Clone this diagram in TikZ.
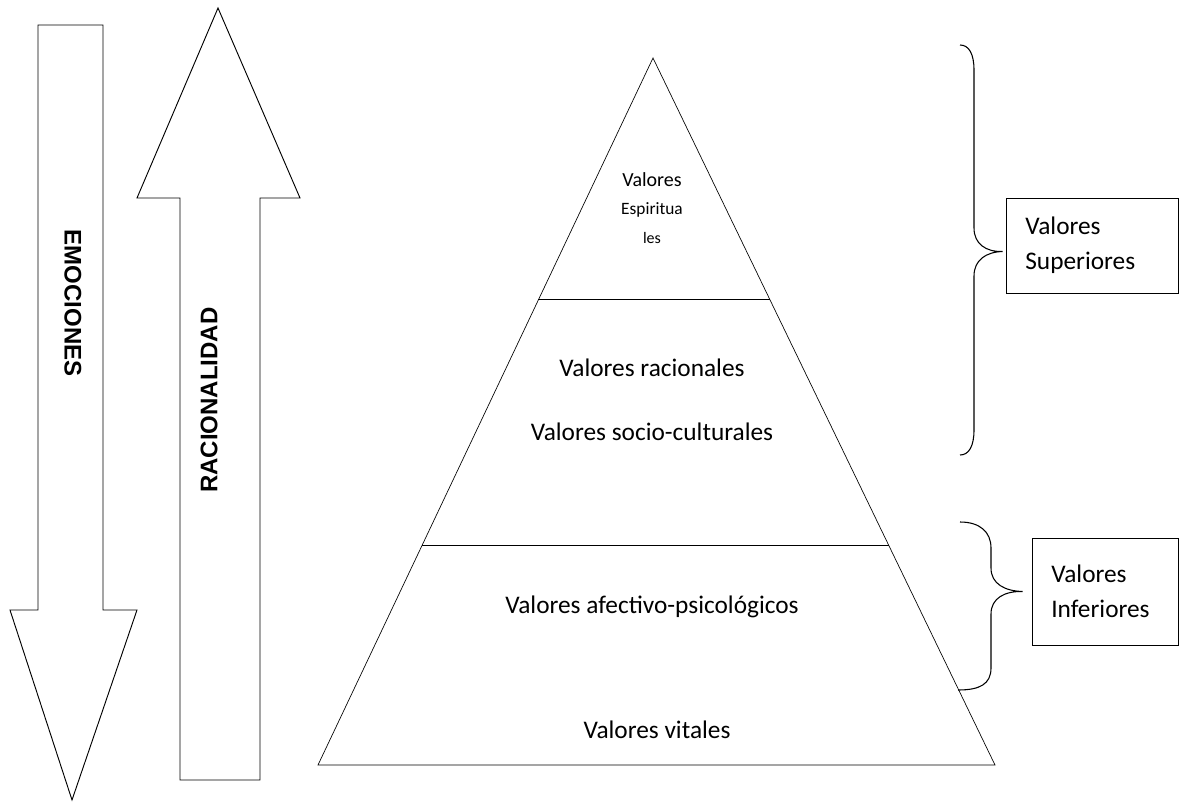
\documentclass[tikz,border=0pt]{standalone}
\usepackage{fontspec}
\setmainfont{Carlito}
\newfontfamily\arrowfont{Liberation Sans}
\usetikzlibrary{calc}

\begin{document}
\begin{tikzpicture}[%
    x=0.75pt, y=-0.75pt,
    outline/.style = {draw, line width=0.7pt, fill=white},
    level/.style = {draw, line width=0.8pt},
    brace line/.style = {draw, line width=0.8pt},
    pyrtext/.style = {font=\fontsize{19}{23}\selectfont},
    arrowtext/.style = {font=\arrowfont\bfseries\fontsize{18}{22}\selectfont},
    valbox/.style = {draw, line width=0.7pt, align=left, inner xsep=14.5pt,
        font=\fontsize{19}{26}\selectfont}
]
\useasboundingbox (0,0) rectangle (1182,807);

% block arrows
\draw[outline] (38,25) -- (103,25) -- (103,610) -- (137,610) -- (72,800)
    -- (10,610) -- (38,610) -- cycle;
\node[arrowtext, rotate=-90] (emoLbl) at (73,303) {EMOCIONES};
\draw[outline] (180,780) -- (260,780) -- (260,198) -- (300,198) -- (218,8)
    -- (137,198) -- (180,198) -- cycle;
\node[arrowtext, rotate=90] (racLbl) at (209,400) {RACIONALIDAD};

% pyramid
\coordinate (apex) at (653,58);
\coordinate (bl) at (318,765);
\coordinate (br) at (995,765);
\draw[line width=0.5pt] (apex) -- (bl) -- (br) -- cycle;
\coordinate (l1) at ($(apex)!0.342!(bl)$);
\coordinate (r1) at ($(apex)!0.342!(br)$);
\coordinate (l2) at ($(apex)!0.690!(bl)$);
\coordinate (r2) at ($(apex)!0.690!(br)$);
\draw[level] (l1) -- (r1);
\draw[level] (l2) -- (r2);

\foreach \t/\y/\s [count=\i] in {Valores/180/15, Espiritua/210/13, les/238/12} {
    \node[font=\fontsize{\s}{\s}\selectfont] (esp\i) at (652,\y) {\t};
}
\node[pyrtext] (vrac) at (652,368) {Valores racionales};
\node[pyrtext] (vsoc) at (652,432) {Valores socio-culturales};
\node[pyrtext] (vafe) at (652,607) {Valores afectivo-psicológicos};
\node[pyrtext] (vvit) at (657,730) {Valores vitales};

% boxes and braces
\node[valbox, minimum width=129pt, minimum height=71.25pt, text width=100pt]
    (sup) at (1092,245.5) {Valores\\Superiores};
\node[valbox, minimum width=109.5pt, minimum height=80.25pt, text width=80.5pt]
    (inf) at (1105,591.5) {Valores\\Inferiores};

\coordinate (supTop) at (960,45);
\coordinate (supBot) at (960,455);
\coordinate (supTip) at ($(sup.west)+(-3,6)$);
\draw[brace line] (supTop) .. controls (969,45) and (974,54) .. (974,70)
    -- (974,228)
    .. controls (974,244) and (986,252) .. (supTip)
    .. controls (986,252) and (974,260) .. (974,276)
    -- (974,430)
    .. controls (974,446) and (969,455) .. (supBot);

\coordinate (infTop) at (960,522);
\coordinate (infBot) at (958,690);
\coordinate (infTip) at ($(inf.west)+(-9,0)$);
\draw[brace line] (infTop) .. controls (980,522) and (991,532) .. (991,548)
    -- (991,568)
    .. controls (991,584) and (1005,591) .. (infTip)
    .. controls (1005,591) and (991,598) .. (991,614)
    -- (991,668)
    .. controls (991,684) and (980,690) .. (infBot);
\end{tikzpicture}
\end{document}
